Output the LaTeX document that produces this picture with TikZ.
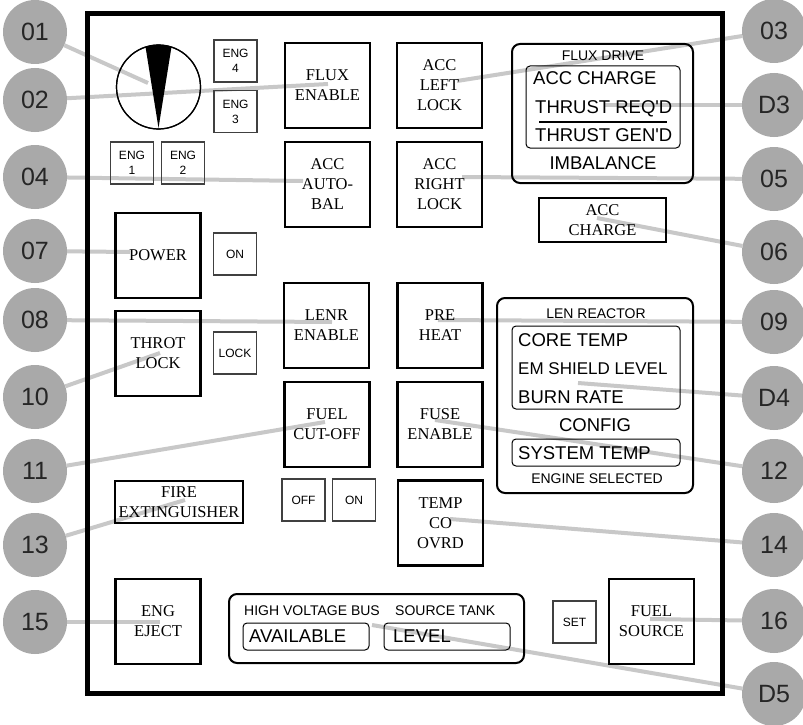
\documentclass[tikz,border=0pt]{standalone}
\usepackage{fontspec}
\setmainfont{Liberation Serif}
\newfontfamily\arial{Liberation Sans}
\usetikzlibrary{backgrounds}
\definecolor{calloutgray}{HTML}{A9A9A9}
\definecolor{leadgray}{HTML}{C8C8C8}
\tikzset{
 btn/.style={draw, line width=2.4pt, inner sep=0pt, align=center, font=\fontsize{16.5}{20}\selectfont, minimum width=85pt, minimum height=85pt},
 sbtn/.style={draw=black!75, line width=1.1pt, inner sep=0pt, align=center, font=\arial\fontsize{12}{15}\selectfont, minimum width=43pt, minimum height=42pt},
 callout/.style={circle, fill=calloutgray, inner sep=0pt, minimum size=64pt, font=\arial\fontsize{25}{25}\selectfont, text=black!85},
 lead/.style={draw=leadgray, line width=4pt},
 panel/.style={draw, line width=2pt, rounded corners=8pt, inner sep=0pt},
 inpanel/.style={draw, line width=1pt, rounded corners=4pt, inner sep=0pt},
 bigtxt/.style={font=\arial\fontsize{18.5}{20}\selectfont, inner sep=0pt},
 smalltxt/.style={font=\arial\fontsize{14}{16}\selectfont, inner sep=0pt},
}
\begin{document}
\begin{tikzpicture}[x=1pt,y=-1pt]
\useasboundingbox (0,0) rectangle (803,725);

% main frame
\node[draw, line width=5pt, minimum width=635pt, minimum height=679pt, inner sep=0pt] (frame) at (404.5,353.5) {};

% dial
\node[draw, circle, line width=1.2pt, minimum size=84pt, inner sep=0pt] (dial) at (158.5,87) {};
\begin{scope}
 \clip (158.5,87) circle[radius=42pt];
 \fill (158.5,128) -- (144.1,38) -- (172.9,38) -- cycle;
\end{scope}
\node[draw, circle, line width=1.2pt, minimum size=84pt, inner sep=0pt] at (158.5,87) {};

% small engine buttons
\node[sbtn] (eng4) at (235.5,61) {ENG\\4};
\node[sbtn] (eng3) at (235.5,111.5) {ENG\\3};
\node[sbtn] (eng1) at (132,163) {ENG\\1};
\node[sbtn] (eng2) at (183,163) {ENG\\2};

% big buttons
\node[btn] (flux) at (327.5,85.5) {FLUX\\ENABLE};
\node[btn] (accl) at (439.5,85.5) {ACC\\LEFT\\LOCK};
\node[btn] (accab) at (327.5,184.5) {ACC\\AUTO-\\BAL};
\node[btn] (accr) at (439.5,184.5) {ACC\\RIGHT\\LOCK};
\node[btn] (power) at (158,255.5) {POWER};
\node[btn] (throt) at (158,353.5) {THROT\\LOCK};
\node[btn] (lenr) at (326.5,325.5) {LENR\\ENABLE};
\node[btn] (preheat) at (440,325.5) {PRE\\HEAT};
\node[btn] (fuelcut) at (327,424.5) {FUEL\\CUT-OFF};
\node[btn] (fuse) at (440,424.5) {FUSE\\ENABLE};
\node[btn] (tempco) at (440.5,523) {TEMP\\CO\\OVRD};
\node[btn] (eject) at (158,621.5) {ENG\\EJECT};
\node[btn] (fuelsrc) at (651.5,621.5) {FUEL\\SOURCE};
\node[btn, minimum width=128pt, minimum height=42pt] (fire) at (179,502) {FIRE\\EXTINGUISHER};
\node[btn, minimum width=127pt, minimum height=44pt] (acccharge) at (602.5,220) {ACC\\CHARGE};

% small switches
\node[sbtn] (on1) at (235,254) {ON};
\node[sbtn] (lock) at (235,353) {LOCK};
\node[sbtn] (off) at (303.5,500) {OFF};
\node[sbtn] (on2) at (354,500) {ON};
\node[sbtn] (set) at (574.5,622) {SET};

% flux drive panel
\node[panel, minimum width=181pt, minimum height=139pt] (fluxpanel) at (602.5,113.5) {};
\node[inpanel, minimum width=154pt, minimum height=82pt] (fluxin) at (603,107) {};
\node[smalltxt, anchor=base] (fdt) at (603,61) {FLUX DRIVE};
\node[bigtxt, anchor=base west] (fd1) at (533,84.6) {ACC CHARGE};
\node[bigtxt, anchor=base west] (fd2) at (535,113.6) {THRUST REQ'D};
\node[bigtxt, anchor=base west] (fd3) at (535,141.6) {THRUST GEN'D};
\coordinate (divl) at (539,122);
\coordinate (divr) at (667,122);
\draw[line width=1.2pt] (divl) -- (divr);
\node[bigtxt, anchor=base] (fd4) at (603,169.6) {IMBALANCE};

% len reactor panel
\node[panel, minimum width=196pt, minimum height=195pt] (lenpanel) at (595,395.5) {};
\node[inpanel, minimum width=168pt, minimum height=83pt] (lenin1) at (596,367.5) {};
\node[inpanel, minimum width=168pt, minimum height=27pt] (lenin2) at (596,452.5) {};
\node[smalltxt, anchor=base] (lrt) at (596,318) {LEN REACTOR};
\node[bigtxt, anchor=base west] (lr1) at (518,346.6) {CORE TEMP};
\node[bigtxt, anchor=base west, font=\arial\fontsize{17}{20}\selectfont] (lr2) at (518,374.6) {EM SHIELD LEVEL};
\node[bigtxt, anchor=base west] (lr3) at (518,403.6) {BURN RATE};
\node[bigtxt, anchor=base] (lr4) at (595,431.6) {CONFIG};
\node[bigtxt, anchor=base west] (lr5) at (518,459.6) {SYSTEM TEMP};
\node[smalltxt, anchor=base] (lr6) at (597,483) {ENGINE SELECTED};

% high voltage bus panel
\node[panel, minimum width=295pt, minimum height=69pt] (hvpanel) at (376.5,628.5) {};
\node[inpanel, minimum width=126pt, minimum height=27pt] (avail) at (306,636.5) {};
\node[inpanel, minimum width=126pt, minimum height=27pt] (level) at (447,636.5) {};
\node[smalltxt, anchor=base west] (hvt) at (244,615) {HIGH VOLTAGE BUS};
\node[smalltxt, anchor=base west] (stt) at (395,615) {SOURCE TANK};
\node[bigtxt, anchor=base west] (avt) at (249,642.6) {AVAILABLE};
\node[bigtxt, anchor=base west] (lvt) at (393,642.6) {LEVEL};

% callouts
\node[callout] (c01) at (35,32) {01};
\node[callout] (c02) at (35,100) {02};
\node[callout] (c04) at (35,177) {04};
\node[callout] (c07) at (35,251) {07};
\node[callout] (c08) at (35,320) {08};
\node[callout] (c10) at (35,397) {10};
\node[callout] (c11) at (35,471) {11};
\node[callout] (c13) at (35,545) {13};
\node[callout] (c15) at (35,622) {15};
\node[callout] (c03) at (774,31) {03};
\node[callout] (cD3) at (774,105) {D3};
\node[callout] (c05) at (774,179) {05};
\node[callout] (c06) at (774,252) {06};
\node[callout] (c09) at (774,322) {09};
\node[callout] (cD4) at (774,398) {D4};
\node[callout] (c12) at (774,471) {12};
\node[callout] (c14) at (774,545) {14};
\node[callout] (c16) at (774,621) {16};
\node[callout] (cD5) at (774,694) {D5};

% leader targets
\coordinate (t01) at (148,83);
\coordinate (t02) at (328,84);
\coordinate (t03) at (457,81);
\coordinate (tD3) at (605,105);
\coordinate (t04) at (303,181);
\coordinate (t05) at (462,177);
\coordinate (t06) at (597,218);
\coordinate (t07) at (130,252);
\coordinate (t08) at (332,322);
\coordinate (t09) at (438,320);
\coordinate (t10) at (160,353);
\coordinate (t11) at (325,422);
\coordinate (tD4) at (578,383);
\coordinate (t12) at (435,420);
\coordinate (t13) at (185,500);
\coordinate (t14) at (450,519);
\coordinate (t15) at (160,622);
\coordinate (t16) at (650,619);
\coordinate (tD5) at (372,625);

\begin{scope}[on background layer]
\fill[white] (0,0) rectangle (803,725);
\draw[lead] (c01) -- (t01);
\draw[lead] (c02) -- (t02);
\draw[lead] (c03) -- (t03);
\draw[lead] (cD3) -- (tD3);
\draw[lead] (c04) -- (t04);
\draw[lead] (c05) -- (t05);
\draw[lead] (c06) -- (t06);
\draw[lead] (c07) -- (t07);
\draw[lead] (c08) -- (t08);
\draw[lead] (c09) -- (t09);
\draw[lead] (c10) -- (t10);
\draw[lead] (c11) -- (t11);
\draw[lead] (cD4) -- (tD4);
\draw[lead] (c12) -- (t12);
\draw[lead] (c13) -- (t13);
\draw[lead] (c14) -- (t14);
\draw[lead] (c15) -- (t15);
\draw[lead] (c16) -- (t16);
\draw[lead] (cD5) -- (tD5);
\end{scope}
\end{tikzpicture}
\end{document}
